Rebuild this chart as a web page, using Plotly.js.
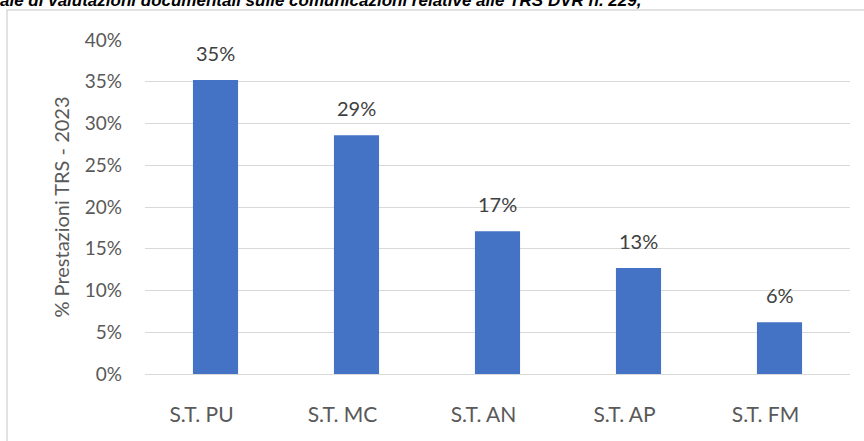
<!DOCTYPE html>
<html>
<head>
<meta charset="utf-8">
<script src="https://cdn.plot.ly/plotly-3.0.1.min.js"></script>
<style>html,body{margin:0;padding:0;background:#fff;}#chart{width:864px;height:441px;}</style>
</head>
<body>
<div id="chart"></div>
<script>
const categories = ["S.T. PU", "S.T. MC", "S.T. AN", "S.T. AP", "S.T. FM"];
const values = [0.352, 0.286, 0.171, 0.127, 0.062];
const valueLabels = ["35%", "29%", "17%", "13%", "6%"];
const yTickVals = [0, 0.05, 0.10, 0.15, 0.20, 0.25, 0.30, 0.35, 0.40];
const yTickText = ["0%", "5%", "10%", "15%", "20%", "25%", "30%", "35%", "40%"];
const yTitle = "% Prestazioni TRS - 2023";
const cutTitle = "ale di valutazioni documentali sulle comunicazioni relative alle TRS DVR n. 229,";

const font = "Lato, 'Open Sans', sans-serif";

const trace = {
  type: "bar",
  x: categories,
  y: values,
  marker: {color: "#4472c4"},
  hoverinfo: "none"
};

const labelAnns = categories.map((c, i) => ({
  x: c, y: values[i], xref: "x", yref: "y",
  text: valueLabels[i],
  showarrow: false,
  yanchor: "bottom",
  yshift: 13,
  font: {family: font, size: 20, color: "#404040"}
}));

const layout = {
  width: 864,
  height: 441,
  margin: {l: 145, r: 14, t: 40, b: 67},
  paper_bgcolor: "#ffffff",
  plot_bgcolor: "#ffffff",
  showlegend: false,
  bargap: 0.68,
  xaxis: {
    showgrid: false,
    showline: false,
    zeroline: false,
    ticks: "",
    tickfont: {family: font, size: 21, color: "#595959"},
    ticklabelstandoff: 26,
    ticklabelshift: -14
  },
  yaxis: {
    range: [0, 0.4],
    tickvals: yTickVals,
    ticktext: yTickText,
    showgrid: true,
    gridcolor: "#d9d9d9",
    gridwidth: 1,
    zeroline: true,
    zerolinecolor: "#d9d9d9",
    zerolinewidth: 1,
    showline: false,
    ticks: "",
    tickfont: {family: font, size: 19, color: "#595959"},
    ticklabelstandoff: 22,
    title: {text: yTitle, font: {family: font, size: 20, color: "#595959"}, standoff: 9}
  },
  shapes: [{
    type: "rect", xref: "paper", yref: "paper",
    x0: (7 - 145) / 705, x1: 1.2,
    y0: -0.4, y1: (374 - 10) / 334,
    line: {color: "#d9d9d9", width: 1.5},
    fillcolor: "rgba(0,0,0,0)"
  }],
  annotations: labelAnns.concat([{
    text: "<b><i>" + cutTitle + "</i></b>",
    xref: "paper", yref: "paper",
    x: (-2 - 145) / 705, xanchor: "left",
    y: (374 - 12) / 334, yanchor: "bottom",
    showarrow: false,
    font: {family: "'Liberation Sans', sans-serif", size: 17, color: "#000000"}
  }])
};

Plotly.newPlot("chart", [trace], layout, {displayModeBar: false, staticPlot: true});
</script>
</body>
</html>
